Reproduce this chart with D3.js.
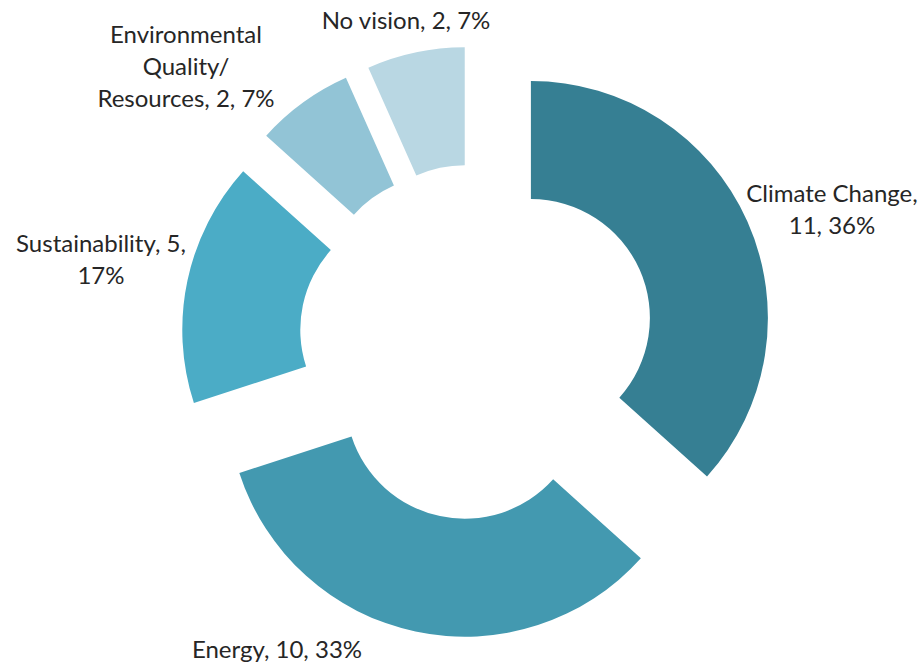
<!DOCTYPE html>
<html>
<head>
<meta charset="utf-8">
<script src="https://cdn.jsdelivr.net/npm/d3@7"></script>
<style>
  html, body { margin: 0; padding: 0; background: #fff; }
  svg { display: block; }
  text { font-family: Lato, "Open Sans", sans-serif; fill: #262626; }
</style>
</head>
<body>
<svg id="chart" width="922" height="667"></svg>
<script>
// Visions named by respondents
const categories = ["Climate Change", "Energy", "Sustainability", "Environmental Quality/ Resources", "No vision"];
const counts = [11, 10, 5, 2, 2];
const percentLabels = ["36%", "33%", "17%", "7%", "7%"];
const colors = ["#367F93", "#4399B0", "#4BACC6", "#92C4D6", "#B9D7E3"];

// Label text lines for each slice
const labelLines = [
  ["Climate Change,", "11, 36%"],
  ["Energy, 10, 33%"],
  ["Sustainability, 5,", "17%"],
  ["Environmental", "Quality/", "Resources, 2, 7%"],
  ["No vision, 2, 7%"]
];
// Label anchors (centre x, first baseline y)
const labelAnchors = [[832, 202], [277, 658], [101, 252], [186, 43], [406, 29]];

const W = 922, H = 667;
const cx = 477, cy = 342;
const outerR = 237, innerR = 119, explode = 59;
const lineGap = 32;

const svg = d3.select("#chart");
const g = svg.append("g").attr("transform", `translate(${cx},${cy})`);

const pie = d3.pie().sort(null).value(d => d);
const arcs = pie(counts);
const arc = d3.arc().innerRadius(innerR).outerRadius(outerR);

g.selectAll("path.slice")
  .data(arcs)
  .join("path")
  .attr("class", "slice")
  .attr("fill", (d, i) => colors[i])
  .attr("transform", d => {
    const mid = (d.startAngle + d.endAngle) / 2;
    return `translate(${Math.sin(mid) * explode},${-Math.cos(mid) * explode})`;
  })
  .attr("d", arc);

const labels = svg.append("g").attr("class", "labels");
labelLines.forEach((lines, i) => {
  const t = labels.append("text")
    .attr("text-anchor", "middle")
    .attr("font-size", 24)
    .attr("x", labelAnchors[i][0])
    .attr("y", labelAnchors[i][1]);
  lines.forEach((ln, j) => {
    t.append("tspan")
      .attr("x", labelAnchors[i][0])
      .attr("dy", j === 0 ? 0 : lineGap)
      .text(ln);
  });
});
</script>
</body>
</html>
